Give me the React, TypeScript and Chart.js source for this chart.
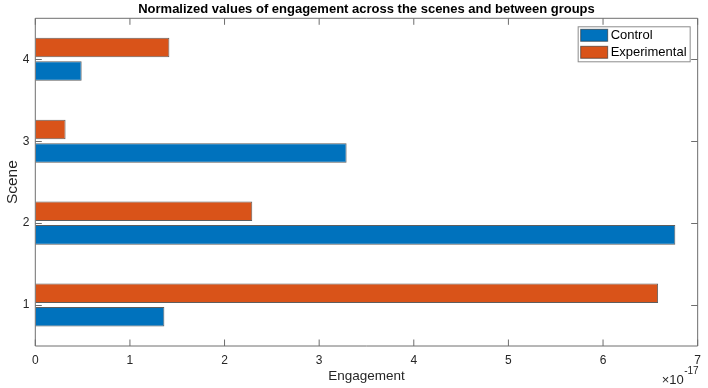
import React, { useEffect, useRef } from "react";
import { Chart, registerables } from "chart.js";

Chart.register(...registerables);

// Engagement per scene, normalized (absolute values, order of 1e-17)
const scenes = ["1", "2", "3", "4"];
const controlValues = [1.364e-17, 6.764e-17, 3.29e-17, 0.49e-17];
const experimentalValues = [6.582e-17, 2.293e-17, 0.32e-17, 1.417e-17];
const xTickValues = [0, 1, 2, 3, 4, 5, 6, 7];
const EXPONENT = -17;

const seriesNames = ["Control", "Experimental"];
const seriesColors = ["#0072BD", "#D95319"];

const FONT = "'Liberation Sans', Arial, Helvetica, sans-serif";
const AXIS_COLOR = "#6e6e6e";
const TEXT_COLOR = "#262626";
const TICK_LEN = 6.5;
const BAR_EDGE = "rgba(40,40,40,0.75)";

const scaleFactor = Math.pow(10, -EXPONENT);

// Box around the axes with inward tick marks on all four sides
const framePlugin = {
  id: "frameTicks",
  afterDatasetsDraw(chart: any) {
    const { ctx, chartArea, scales } = chart;
    const { left, right, top, bottom } = chartArea;
    ctx.save();
    ctx.strokeStyle = AXIS_COLOR;
    ctx.lineWidth = 1;
    ctx.beginPath();
    ctx.rect(left, top, right - left, bottom - top);
    ctx.stroke();
    ctx.beginPath();
    for (const v of xTickValues) {
      const px = scales.x.getPixelForValue(v);
      ctx.moveTo(px, bottom);
      ctx.lineTo(px, bottom - TICK_LEN);
      ctx.moveTo(px, top);
      ctx.lineTo(px, top + TICK_LEN);
    }
    scenes.forEach((_, i) => {
      const py = Math.round(scales.y.getPixelForValue(i)) + 0.5;
      ctx.moveTo(left, py);
      ctx.lineTo(left + TICK_LEN, py);
      ctx.moveTo(right, py);
      ctx.lineTo(right - TICK_LEN, py);
    });
    ctx.stroke();
    ctx.restore();
  },
  afterDraw(chart: any) {
    const { ctx, chartArea } = chart;
    ctx.save();

    // Legend box in the upper right corner of the axes (Control listed first)
    const boxW = 112;
    const boxH = 35;
    const bx = chartArea.right - 8 - boxW + 0.5;
    const by = chartArea.top + 8.5;
    ctx.fillStyle = "#ffffff";
    ctx.fillRect(bx, by, boxW, boxH);
    ctx.strokeStyle = "#8c8c8c";
    ctx.lineWidth = 1;
    ctx.strokeRect(bx, by, boxW, boxH);
    ctx.font = `13px ${FONT}`;
    ctx.textBaseline = "middle";
    ctx.textAlign = "left";
    seriesNames.forEach((name, i) => {
      const rowY = by + 2.5 + i * 17;
      ctx.fillStyle = seriesColors[i];
      ctx.fillRect(bx + 2.5, rowY, 27, 12);
      ctx.strokeStyle = "rgba(40,40,40,0.6)";
      ctx.strokeRect(bx + 2.5, rowY, 27, 12);
      ctx.fillStyle = "#000000";
      ctx.fillText(name, bx + 32.5, rowY + 6.5);
    });

    // Exponent label under the right end of the x axis
    const expText = String(EXPONENT);
    ctx.fillStyle = TEXT_COLOR;
    ctx.textBaseline = "alphabetic";
    ctx.textAlign = "right";
    ctx.font = `10px ${FONT}`;
    const expRight = chartArea.right + 1;
    ctx.fillText(expText, expRight, chartArea.bottom + 27.5);
    const expW = ctx.measureText(expText).width;
    ctx.font = `13px ${FONT}`;
    ctx.fillText("\u00d710", expRight - expW - 0.5, chartArea.bottom + 38);
    ctx.restore();
  },
};

export default function App() {
  const canvasRef = useRef<HTMLCanvasElement | null>(null);

  useEffect(() => {
    if (!canvasRef.current) return;
    // Experimental is listed first so that it sits above Control in each group
    const chart = new Chart(canvasRef.current, {
      type: "bar",
      data: {
        labels: scenes,
        datasets: [
          {
            label: seriesNames[1],
            data: experimentalValues.map((v) => v * scaleFactor),
            backgroundColor: seriesColors[1],
            borderColor: BAR_EDGE,
            borderWidth: 1,
          },
          {
            label: seriesNames[0],
            data: controlValues.map((v) => v * scaleFactor),
            backgroundColor: seriesColors[0],
            borderColor: BAR_EDGE,
            borderWidth: 1,
          },
        ],
      },
      options: {
        indexAxis: "y",
        responsive: false,
        animation: false,
        layout: { padding: { top: 0, right: 7.3, left: 0, bottom: 0 } },
        datasets: {
          bar: { categoryPercentage: 0.574, barPercentage: 0.83 },
        },
        plugins: {
          legend: { display: false },
          tooltip: { enabled: false },
          title: {
            display: true,
            fullSize: false,
            text: "Normalized values of engagement across the scenes and between groups",
            color: "#000000",
            font: { family: FONT, size: 13, weight: "bold" },
            padding: { top: 1.5, bottom: 1.2 },
          },
        },
        scales: {
          x: {
            type: "linear",
            min: 0,
            max: 7,
            grid: { display: false, drawTicks: false },
            border: { display: false },
            ticks: {
              stepSize: 1,
              padding: 7,
              color: TEXT_COLOR,
              font: { family: FONT, size: 12 },
              callback: (v: any) => String(v),
            },
            title: {
              display: true,
              text: "Engagement",
              color: TEXT_COLOR,
              font: { family: FONT, size: 13.5 },
              padding: { top: 0, bottom: 4 },
            },
            afterFit: (scale: any) => {
              scale.height = 42;
            },
          },
          y: {
            type: "category",
            reverse: true,
            grid: { display: false, drawTicks: false },
            border: { display: false },
            ticks: {
              padding: 6,
              color: TEXT_COLOR,
              font: { family: FONT, size: 12 },
            },
            title: {
              display: true,
              text: "Scene",
              color: TEXT_COLOR,
              font: { family: FONT, size: 15.5 },
              padding: { top: 3, bottom: 0 },
            },
            afterFit: (scale: any) => {
              scale.width = 35.3;
            },
          },
        },
      },
      plugins: [framePlugin],
    });
    return () => chart.destroy();
  }, []);

  return (
    <div style={{ position: "absolute", left: 0, top: 0, width: 708, height: 388, background: "#ffffff" }}>
      <canvas ref={canvasRef} width={708} height={388} style={{ display: "block" }} />
    </div>
  );
}
